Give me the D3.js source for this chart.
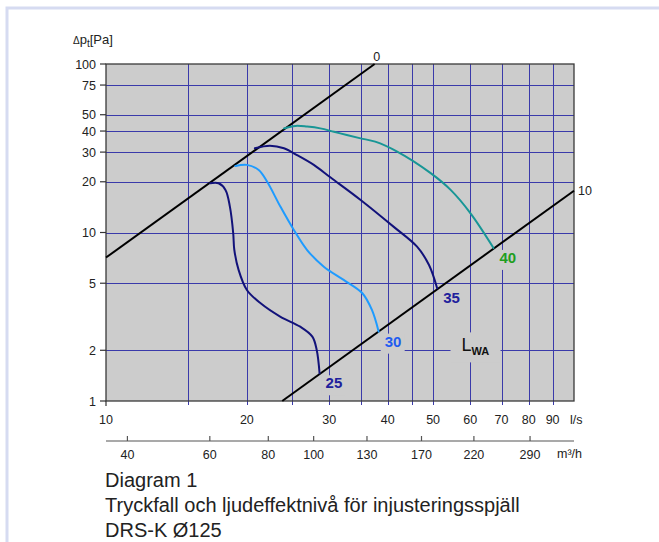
<!DOCTYPE html>
<html><head><meta charset="utf-8">
<script src="https://cdn.jsdelivr.net/npm/d3@7/dist/d3.min.js"></script>
<style>
html,body{margin:0;padding:0;background:#fff;}
svg{display:block;font-family:"Liberation Sans",Arial,sans-serif;}
</style></head>
<body>
<svg id="c" width="659" height="542"></svg>
<script>
// ---- data ----
const yTicks = [1, 2, 5, 10, 20, 30, 40, 50, 75, 100];
const xGrid = [15, 20, 25, 30, 35, 40, 45, 50, 60, 70, 80, 90];
const xLabels = [10, 20, 30, 40, 50, 60, 70, 80, 90];
const m3hTicks = [40, 60, 80, 100, 130, 170, 220, 290];
const lwaLine0 = [[10, 7.1], [37.5, 100]];
const lwaLine10 = [[23.8, 1], [100, 17.7]];
const curve25 = [[16.7,19.6],[17.4,19.6],[18.0,17.9],[18.4,14.2],[18.7,9.9],[18.8,7.9],[19.2,6.0],[20.0,4.56],[21.4,3.8],[23.6,3.16],[26.0,2.76],[27.6,2.41],[28.2,2.01],[28.6,1.46]];
const curve30 = [[18.9,24.8],[20.0,25.2],[21.2,23.5],[22.1,20.0],[23.6,14.2],[25.2,10.35],[26.9,7.87],[29.2,6.27],[32.2,5.23],[35.3,4.36],[37.0,3.47],[38.25,2.58]];
const curve35 = [[20.8,31.6],[22.4,32.7],[24.0,31.6],[25.6,28.8],[27.8,25.2],[30.2,21.2],[35.0,15.6],[41.2,10.8],[46.2,8.24],[49.0,6.41],[51.0,4.67]];
const curve40 = [[24.0,41.5],[25.4,42.9],[26.9,42.5],[28.7,41.5],[30.7,39.6],[32.7,37.9],[35.0,36.2],[37.6,34.6],[41.9,30.2],[49.4,22.5],[54.5,17.9],[60.1,13.0],[67.3,8.1]];
const curveNames = ["25", "30", "35", "40"];
const lwaLabelPos = [57.5, 1.97];
const caption = ["Diagram 1", "Tryckfall och ljudeffektnivå för injusteringsspjäll", "DRS-K Ø125"];

// ---- layout ----
const L = 106, R = 574, T = 64, B = 401;
const svg = d3.select("#c");
const x = d3.scaleLog().domain([10, 100]).range([L, R]);
const y = d3.scaleLog().domain([1, 100]).range([B, T]);
const m3 = v => x(v / 3.6);

// outer frame (light)
svg.append("rect").attr("x", 7).attr("y", 8).attr("width", 660).attr("height", 540)
  .attr("fill", "none").attr("stroke", "#d6dbf1").attr("stroke-width", 3);

// plot background
svg.append("rect").attr("x", L).attr("y", T).attr("width", R - L).attr("height", B - T).attr("fill", "#cccccc");

const grid = svg.append("g").attr("shape-rendering", "crispEdges");
const gridCol = "#3a3aaa";
grid.selectAll(".hg").data(yTicks.filter(v => v > 1 && v < 100)).join("line")
  .attr("x1", L).attr("x2", R).attr("y1", d => Math.round(y(d)) + 0.5).attr("y2", d => Math.round(y(d)) + 0.5)
  .attr("stroke", gridCol).attr("stroke-width", 1);
grid.selectAll(".vg").data(xGrid).join("line")
  .attr("x1", d => Math.round(x(d)) + 0.5).attr("x2", d => Math.round(x(d)) + 0.5)
  .attr("y1", T).attr("y2", B + 4)
  .attr("stroke", gridCol).attr("stroke-width", 1);

// label background boxes (hide grid behind labels)
const ends = [curve25, curve30, curve35, curve40].map(c => c[c.length - 1]);
const boxes = svg.append("g");
ends.forEach((e, i) => {
  const px = x(e[0]) + 5, py = y(e[1]) + 15;
  boxes.append("rect").attr("x", px - 3).attr("y", py - 13).attr("width", 24).attr("height", 20).attr("fill", "#cccccc");
});
boxes.append("rect").attr("x", x(lwaLabelPos[0]) - 11).attr("y", y(lwaLabelPos[1]) - 19)
  .attr("width", 50).attr("height", 30).attr("fill", "#cccccc");

// plot border
svg.append("rect").attr("x", L).attr("y", T).attr("width", R - L).attr("height", B - T)
  .attr("fill", "none").attr("stroke", "#3a3a3a").attr("stroke-width", 1.3);

// y axis ticks & labels
const yAx = svg.append("g");
yAx.selectAll("line").data(yTicks).join("line")
  .attr("x1", L - 6).attr("x2", L).attr("y1", d => y(d)).attr("y2", d => y(d))
  .attr("stroke", "#333").attr("stroke-width", 1.2);
yAx.selectAll("text").data(yTicks).join("text")
  .attr("x", 96).attr("y", d => y(d) + 4.5).attr("text-anchor", "end")
  .attr("font-size", 12.5).attr("fill", "#222").text(d => d);

// x ticks at 10
svg.append("line").attr("x1", L).attr("x2", L).attr("y1", B).attr("y2", B + 5).attr("stroke", "#333").attr("stroke-width", 1.2);
svg.selectAll(".xl").data(xLabels).join("text")
  .attr("x", d => x(d)).attr("y", 424).attr("text-anchor", "middle")
  .attr("font-size", 12.5).attr("fill", "#222").text(d => d);
svg.append("text").attr("x", 570).attr("y", 424).attr("font-size", 12.5).attr("fill", "#222").text("l/s");

// secondary m3/h axis
svg.append("line").attr("x1", L).attr("x2", R).attr("y1", 441).attr("y2", 441).attr("stroke", "#555").attr("stroke-width", 1.2);
svg.selectAll(".mt").data(m3hTicks).join("line")
  .attr("x1", d => m3(d)).attr("x2", d => m3(d)).attr("y1", 436).attr("y2", 441)
  .attr("stroke", "#555").attr("stroke-width", 1.2);
svg.selectAll(".ml").data(m3hTicks).join("text")
  .attr("x", d => m3(d)).attr("y", 458.5).attr("text-anchor", "middle")
  .attr("font-size", 12.5).attr("fill", "#222").text(d => d);
svg.append("text").attr("x", 557).attr("y", 458).attr("font-size", 12.5).attr("fill", "#222")
  .text("m³/h");

// y axis title
const yt = svg.append("text").attr("x", 73).attr("y", 44).attr("fill", "#222").attr("font-size", 13);
yt.append("tspan").attr("font-size", 10).text("Δ");
yt.append("tspan").text("p");
yt.append("tspan").attr("font-size", 10).attr("dy", 3).text("t");
yt.append("tspan").attr("dy", -3).text("[Pa]");

// LWA isolines
const lineGen = d3.line().x(d => x(d[0])).y(d => y(d[1]));
[lwaLine0, lwaLine10].forEach(l => {
  svg.append("path").attr("d", lineGen(l)).attr("fill", "none").attr("stroke", "#000").attr("stroke-width", 2);
});
svg.append("text").attr("x", x(lwaLine0[1][0]) + 2).attr("y", y(lwaLine0[1][1]) - 3).attr("text-anchor", "middle")
  .attr("font-size", 12.5).attr("fill", "#222").text("0");
svg.append("text").attr("x", x(lwaLine10[1][0]) + 4).attr("y", y(lwaLine10[1][1]) + 4.5)
  .attr("font-size", 12.5).attr("fill", "#222").text("10");

// curves
const curveGen = d3.line().x(d => x(d[0])).y(d => y(d[1])).curve(d3.curveCatmullRom.alpha(0.5));
const curveCols = ["#12127a", "#1e9bff", "#12127a", "#189696"];
const labelCols = ["#20209c", "#1f5cf0", "#20209c", "#1f9e1f"];
[curve25, curve30, curve35, curve40].forEach((c, i) => {
  svg.append("path").attr("d", curveGen(c)).attr("fill", "none").attr("stroke", curveCols[i])
    .attr("stroke-width", 2).attr("stroke-linecap", "round");
});
ends.forEach((e, i) => {
  svg.append("text").attr("x", x(e[0]) + 6).attr("y", y(e[1]) + 15)
    .attr("font-size", 15).attr("font-weight", "bold").attr("fill", labelCols[i]).text(curveNames[i]);
});
const lw = svg.append("text").attr("x", x(lwaLabelPos[0])).attr("y", y(lwaLabelPos[1])).attr("fill", "#111");
lw.append("tspan").attr("font-size", 18).text("L");
lw.append("tspan").attr("font-size", 11).attr("font-weight", "bold").attr("dy", 4).text("WA");

// caption
svg.selectAll(".cap").data(caption).join("text")
  .attr("x", 105).attr("y", (d, i) => 487 + i * 25).attr("font-size", 20).attr("fill", "#222").text(d => d);
</script>
</body></html>
